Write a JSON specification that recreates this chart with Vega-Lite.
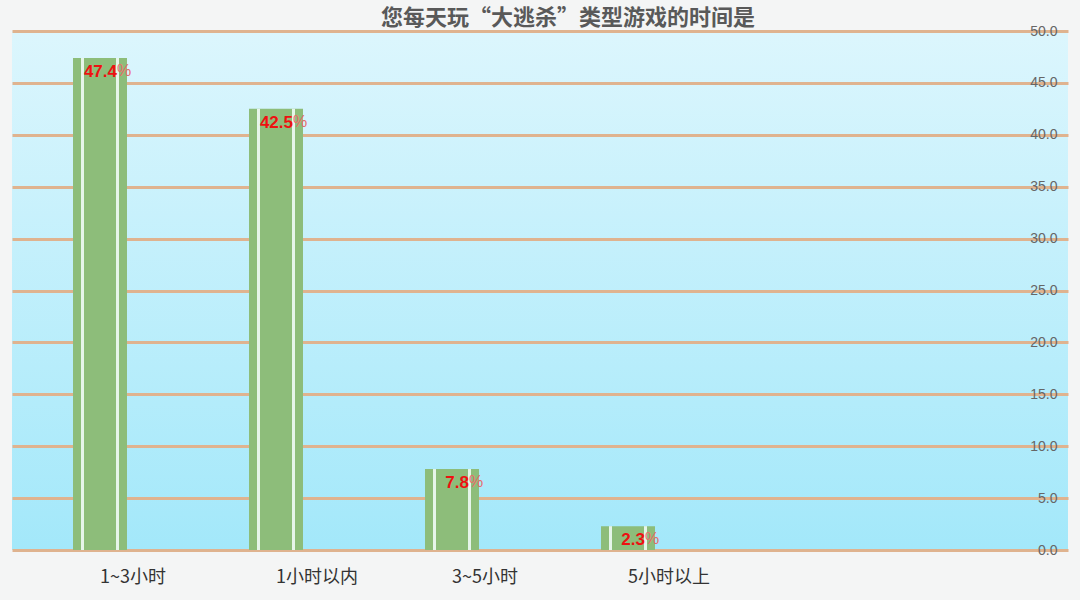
{
  "$schema": "https://vega.github.io/schema/vega-lite/v6.json",
  "description": "您每天玩“大逃杀”类型游戏的时间是",
  "width": 1056,
  "height": 519,
  "autosize": "none",
  "padding": {"left": 12, "top": 31, "right": 12, "bottom": 50},
  "background": "#f4f5f5",
  "title": {
    "text": "您每天玩“大逃杀”类型游戏的时间是",
    "font": "Noto Sans CJK SC",
    "fontSize": 22,
    "fontWeight": "bold",
    "color": "#595959",
    "anchor": "middle",
    "frame": "group",
    "offset": -6,
    "dx": 28
  },
  "data": {
    "values": [
      {"time": "1~3小时", "pct": 47.4},
      {"time": "1小时以内", "pct": 42.5},
      {"time": "3~5小时", "pct": 7.8},
      {"time": "5小时以上", "pct": 2.3}
    ]
  },
  "encoding": {
    "x": {
      "field": "time",
      "type": "nominal",
      "sort": null,
      "scale": {
        "domain": ["1~3小时", "1小时以内", "3~5小时", "5小时以上", " ", "  "],
        "paddingInner": 0,
        "paddingOuter": 0
      },
      "axis": {
        "title": null,
        "domain": false,
        "ticks": false,
        "grid": false,
        "labelAngle": 0,
        "labelAlign": "left",
        "labelDx": -10,
        "labelPadding": 18,
        "labelFont": "Noto Sans CJK SC",
        "labelFontSize": 18,
        "labelColor": "#333333"
      }
    },
    "y": {
      "field": "pct",
      "type": "quantitative",
      "scale": {"domain": [0, 50]},
      "axis": {
        "title": null,
        "orient": "right",
        "values": [0, 5, 10, 15, 20, 25, 30, 35, 40, 45, 50],
        "format": ".1f",
        "domain": false,
        "ticks": false,
        "grid": true,
        "gridColor": "#dfb38f",
        "gridWidth": 3,
        "gridOpacity": 1,
        "labelAlign": "right",
        "labelPadding": -11,
        "labelFont": "Arial",
        "labelFontSize": 14,
        "labelColor": "#666666"
      }
    }
  },
  "layer": [
    {"mark": {"type": "bar", "width": 54, "color": "#8dbd7a"}},
    {"mark": {"type": "bar", "width": 3, "xOffset": -17.5, "color": "#e6f5ea"}},
    {"mark": {"type": "bar", "width": 3, "xOffset": 17.5, "color": "#e6f5ea"}},
    {
      "mark": {
        "type": "text",
        "baseline": "top",
        "align": "right",
        "dy": 6,
        "dx": 17,
        "font": "Arial",
        "fontSize": 17,
        "fontWeight": "bold",
        "color": "#ee1111"
      },
      "encoding": {
        "text": {"field": "pct", "type": "quantitative", "format": ".1f"}
      }
    },
    {
      "mark": {
        "type": "text",
        "baseline": "top",
        "align": "left",
        "dy": 5,
        "dx": 17,
        "font": "Arial",
        "fontSize": 16,
        "color": "#e86a6a"
      },
      "encoding": {"text": {"value": "%"}}
    }
  ],
  "config": {
    "view": {
      "stroke": null,
      "fill": {
        "gradient": "linear",
        "x1": 0, "y1": 0, "x2": 0, "y2": 1,
        "stops": [
          {"offset": 0, "color": "#dcf6fd"},
          {"offset": 1, "color": "#a3e8fa"}
        ]
      }
    }
  }
}
